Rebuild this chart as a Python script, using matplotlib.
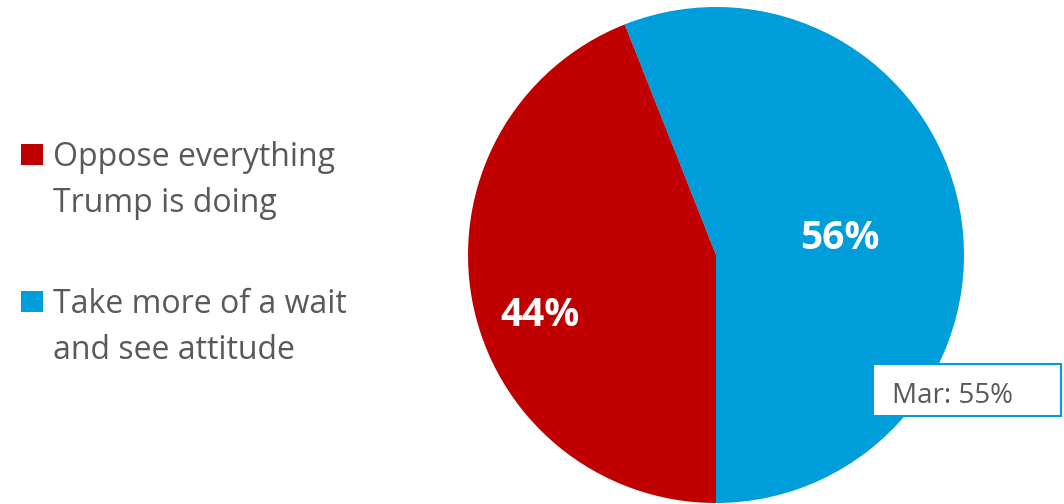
import matplotlib
matplotlib.use("Agg")
import matplotlib.pyplot as plt
from matplotlib.patches import Rectangle

plt.rcParams['font.family'] = ['Open Sans', 'DejaVu Sans']

categories = ["Take more of a wait\nand see attitude", "Oppose everything\nTrump is doing"]
values = [56, 44]
colors = ["#009DDB", "#C00000"]
legend_order = [1, 0]
prior_label = "Mar: 55%"

W, H = 1064, 504
fig = plt.figure(figsize=(W / 100, H / 100), dpi=100)

cx, cy, r = 716, 255, 248
ax = fig.add_axes([(cx - r) / W, (H - cy - r) / H, 2 * r / W, 2 * r / H])
start = -90 + values[0] / 100 * 360  # first slice ends straight down
wedges, _ = ax.pie(values, colors=colors, startangle=start, counterclock=False,
                   radius=1, wedgeprops=dict(linewidth=0))
ax.set_xlim(-1, 1)
ax.set_ylim(-1, 1)
ax.set_aspect('equal')
ax.axis('off')

# percentage labels
ax.text(0.5, 0.065, f"{values[0]}%", color="white", fontsize=28, fontweight='bold',
        ha='center', va='center')
ax.text(-0.71, -0.242, f"{values[1]}%", color="white", fontsize=28, fontweight='bold',
        ha='center', va='center')

# legend (manual, to align square with first line)
legend_tops = [144, 291]
for i, top in zip(legend_order, legend_tops):
    fig.add_artist(Rectangle((21 / W, 1 - (top + 21) / H), 22 / W, 21 / H,
                             transform=fig.transFigure, facecolor=colors[i],
                             edgecolor='none'))
    lines = categories[i].split("\n")
    for k, line in enumerate(lines):
        base = top + 22 + 46 * k
        fig.text(53 / W, 1 - base / H, line, fontsize=23, color="#595959",
                 ha='left', va='baseline')

# prior value box
fig.add_artist(Rectangle((873 / W, 1 - 416 / H), 188 / W, 52 / H,
                         transform=fig.transFigure, facecolor='white',
                         edgecolor=colors[0], linewidth=1.5))
fig.text(892 / W, 1 - 403 / H, prior_label, fontsize=20, color="#595959",
         ha='left', va='baseline')

fig.savefig("out.png", dpi=100)
